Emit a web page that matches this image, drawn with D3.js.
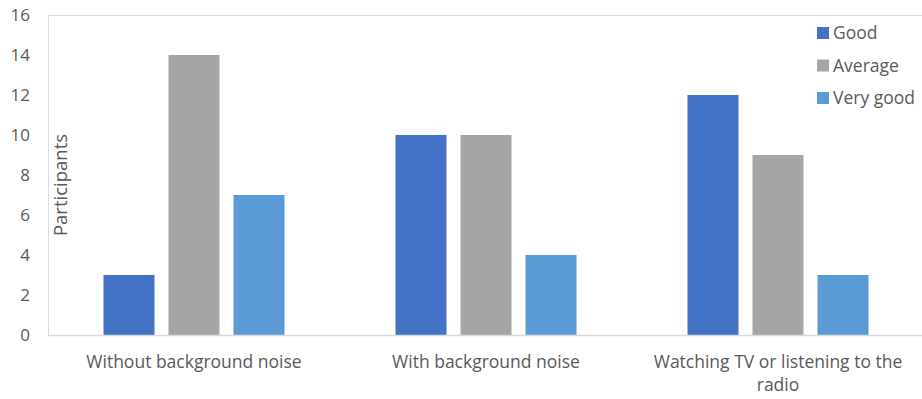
<!DOCTYPE html>
<html>
<head>
<meta charset="utf-8">
<script src="https://cdn.jsdelivr.net/npm/d3@7"></script>
<style>
  html, body { margin: 0; padding: 0; background: #fff; }
  svg { display: block; }
  text { font-family: "Open Sans", "Liberation Sans", sans-serif; fill: #595959; }
</style>
</head>
<body>
<svg id="chart" width="922" height="399"></svg>
<script>
// Listening conditions (x categories)
const categories = [
  "Without background noise",
  "With background noise",
  "Watching TV or listening to the radio"
];
// Rating series
const seriesNames = ["Good", "Average", "Very good"];
const goodValues = [3, 10, 12];
const averageValues = [14, 10, 9];
const veryGoodValues = [7, 4, 3];
const yTicks = [0, 2, 4, 6, 8, 10, 12, 14, 16];
const yTitle = "Participants";

const seriesValues = [goodValues, averageValues, veryGoodValues];
const colors = ["#4472c4", "#a5a5a5", "#5b9bd5"];

const svg = d3.select("#chart");
const plot = { left: 48, right: 924, top: 15, bottom: 335 };

const x = d3.scaleBand()
  .domain(categories)
  .range([plot.left, plot.right])
  .paddingInner(0).paddingOuter(0);

// Bars within a category: 51px wide with 14px gaps, centred in the band
const barW = 51, gap = 14;
const clusterW = barW * 3 + gap * 2;
const xSeries = d3.scaleBand()
  .domain(seriesNames)
  .range([0, clusterW])
  .paddingInner(gap / (barW + gap))
  .paddingOuter(0);
const clusterOffset = (x.bandwidth() - clusterW) / 2;

const y = d3.scaleLinear().domain([0, 16]).range([plot.bottom, plot.top]);

// Plot frame
svg.append("rect")
  .attr("x", plot.left + 0.5).attr("y", plot.top + 0.5)
  .attr("width", plot.right - plot.left).attr("height", plot.bottom - plot.top)
  .attr("fill", "none").attr("stroke", "#d6dce5").attr("stroke-width", 1);

// Bars
seriesNames.forEach((name, si) => {
  svg.append("g").selectAll("rect")
    .data(categories.map((c, ci) => ({ c, v: seriesValues[si][ci] })))
    .join("rect")
    .attr("x", d => x(d.c) + clusterOffset + xSeries(name))
    .attr("y", d => y(d.v))
    .attr("width", xSeries.bandwidth())
    .attr("height", d => y(0) - y(d.v))
    .attr("fill", colors[si]);
});

// Baseline
svg.append("line")
  .attr("x1", plot.left).attr("x2", plot.right)
  .attr("y1", plot.bottom + 0.5).attr("y2", plot.bottom + 0.5)
  .attr("stroke", "#d9d9d9").attr("stroke-width", 1.5);

// Y axis labels
const yAxis = d3.axisLeft(y).tickValues(yTicks).tickSize(0).tickPadding(0);
const gy = svg.append("g").attr("transform", `translate(30,0)`).call(yAxis);
gy.select(".domain").remove();
gy.selectAll("text")
  .style("font-size", "17px")
  .style("font-family", "'Open Sans', sans-serif")
  .attr("fill", "#595959")
  .attr("dy", "0.35em");

// X axis labels, wrapped to the band width
const xAxis = d3.axisBottom(x).tickSize(0).tickPadding(0);
const gx = svg.append("g").attr("transform", `translate(0,${plot.bottom})`).call(xAxis);
gx.select(".domain").remove();
gx.selectAll("text")
  .style("font-size", "17.5px")
  .style("font-family", "'Open Sans', sans-serif")
  .attr("fill", "#595959")
  .each(function(d) {
    const t = d3.select(this);
    t.text(null).attr("y", 0).attr("dy", null);
    const words = d.split(" ");
    const maxW = 270;
    let lines = [], line = [];
    const tmp = t.append("tspan");
    words.forEach(w => {
      line.push(w);
      tmp.text(line.join(" "));
      if (tmp.node().getComputedTextLength() > maxW && line.length > 1) {
        line.pop();
        lines.push(line.join(" "));
        line = [w];
      }
    });
    lines.push(line.join(" "));
    tmp.remove();
    lines.forEach((ln, i) => {
      t.append("tspan").attr("x", 0).attr("y", 33 + i * 23).text(ln);
    });
  });

// Y axis title
svg.append("text")
  .attr("transform", `translate(67,${(plot.top + plot.bottom) / 2 + 10}) rotate(-90)`)
  .attr("text-anchor", "middle")
  .style("font-size", "18.5px")
  .text(yTitle);

// Legend
const legend = svg.append("g").attr("transform", "translate(817,0)");
seriesNames.forEach((name, i) => {
  const cy = 33 + i * 32.5;
  legend.append("rect")
    .attr("x", 0).attr("y", cy - 6).attr("width", 12).attr("height", 12)
    .attr("fill", colors[i]);
  legend.append("text")
    .attr("x", 16).attr("y", cy).attr("dy", "0.35em")
    .style("font-size", "17.5px")
    .text(name);
});
</script>
</body>
</html>
